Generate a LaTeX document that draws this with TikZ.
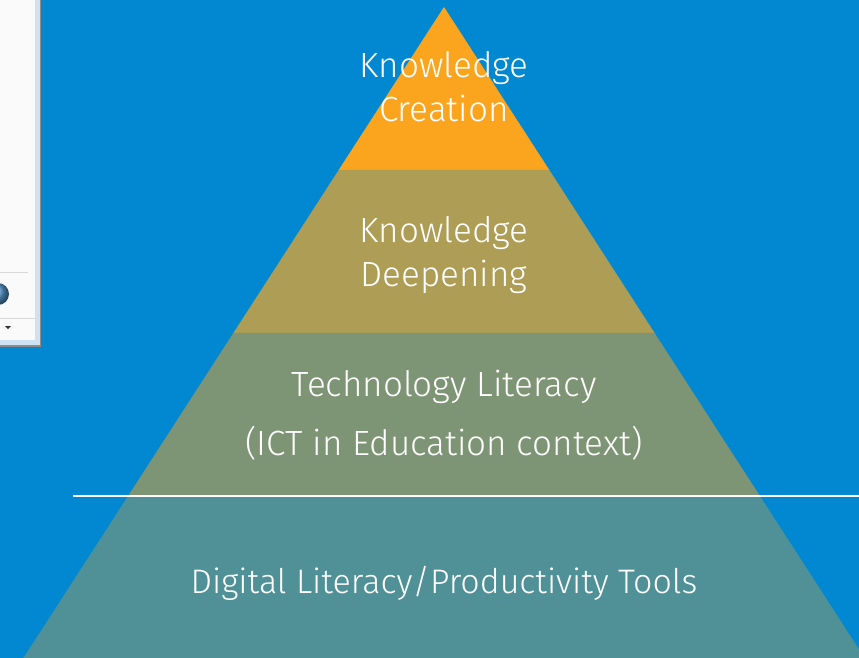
\documentclass[tikz,border=0pt]{standalone}
\usepackage{fontspec}
\setmainfont{Fira Sans Light}
\usetikzlibrary{positioning, calc}

\definecolor{slideblue}{RGB}{2,136,209}
\definecolor{tiercreate}{RGB}{251,165,30}
\definecolor{tierdeep}{RGB}{174,157,85}
\definecolor{tiertech}{RGB}{126,149,117}
\definecolor{tierdigital}{RGB}{79,145,150}
\definecolor{winframe}{RGB}{205,226,243}
\definecolor{winball}{RGB}{90,160,215}

\begin{document}
\begin{tikzpicture}[
    x=1pt, y=-1pt,
    % Styles
    tiertext/.style={
        text=white, align=center, font=\fontsize{35}{44}\selectfont,
        inner sep=0pt, anchor=base
    },
    divider/.style={draw=white, line width=1.6pt}
]

    % --- Background ---
    \fill[slideblue] (0,0) rectangle (859,658);
    \useasboundingbox (0,0) rectangle (859,658);

    % --- Window fragment (left) ---
    \fill[black!45] (0,0) rectangle (41,347);
    \fill[winframe] (0,0) rectangle (40,345);
    \fill[white!96!gray] (0,0) rectangle (35,340);
    \draw[black!15] (0,272) -- (28,272);
    \draw[black!15] (0,318) -- (35,318);
    \shade[ball color=winball] (-2,294) circle (11);
    \fill[black!80] (5,326) -- (11,326) -- (8,329) -- cycle;

    % --- Pyramid corners ---
    \coordinate (apex) at (444,7);
    \coordinate (baseL) at (23.4,658);
    \coordinate (baseR) at (864.6,658);

    % Tier boundaries
    \coordinate (c1L) at ($(apex)!{(170-7)/651}!(baseL)$);
    \coordinate (c1R) at ($(apex)!{(170-7)/651}!(baseR)$);
    \coordinate (c2L) at ($(apex)!{(333-7)/651}!(baseL)$);
    \coordinate (c2R) at ($(apex)!{(333-7)/651}!(baseR)$);
    \coordinate (c3L) at ($(apex)!{(496-7)/651}!(baseL)$);
    \coordinate (c3R) at ($(apex)!{(496-7)/651}!(baseR)$);

    % --- Tiers ---
    \fill[tiercreate] (apex) -- (c1R) -- (c1L) -- cycle;
    \fill[tierdeep] (c1L) -- (c1R) -- (c2R) -- (c2L) -- cycle;
    \fill[tiertech] (c2L) -- (c2R) -- (c3R) -- (c3L) -- cycle;
    \fill[tierdigital] (c3L) -- (c3R) -- (baseR) -- (baseL) -- cycle;

    % --- Divider ---
    \coordinate (divL) at (73,496);
    \coordinate (divR) at (859,496);
    \draw[divider] (divL) -- (divR);

    % --- Labels ---
    \node[tiertext] (create1) at (444,78) {Knowledge};
    \node[tiertext] (create2) at (444,122) {Creation};
    \node[tiertext] (deep1) at (444,242) {Knowledge};
    \node[tiertext] (deep2) at (444,286) {Deepening};
    \node[tiertext] (tech1) at (444,396) {Technology Literacy};
    \node[tiertext] (tech2) at (444,455) {(ICT in Education context)};
    \node[tiertext, font=\fontsize{34}{44}\selectfont] (digital) at (444,593) {Digital Literacy/Productivity Tools};

\end{tikzpicture}
\end{document}
